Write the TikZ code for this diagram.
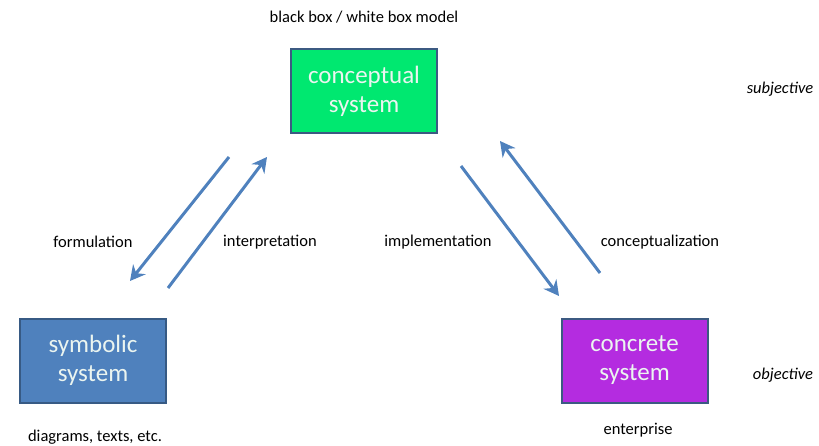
\documentclass[tikz,border=0pt]{standalone}
\usepackage{fontspec}
\setmainfont{Carlito}
\usetikzlibrary{arrows.meta}
\definecolor{cgreen}{RGB}{0,232,112}
\definecolor{cblue}{RGB}{79,129,189}
\definecolor{cpurple}{RGB}{180,44,224}
\definecolor{cedge}{RGB}{60,90,130}
\definecolor{arrowblue}{RGB}{79,129,189}
\definecolor{boxtext}{RGB}{235,245,240}
\begin{document}
\begin{tikzpicture}[x=1pt,y=-1pt,
  sysbox/.style={draw=cedge,line width=2pt,minimum width=146pt,minimum height=84pt,
    align=center,text=boxtext,font=\fontsize{25}{29}\selectfont,inner sep=0pt},
  lbl/.style={font=\fontsize{16.5}{19}\selectfont,text=black,inner sep=0pt},
  side/.style={font=\fontsize{16.5}{19}\selectfont\itshape,text=black,inner sep=0pt},
  flow/.style={draw=arrowblue,line width=3pt,
    -{Stealth[length=15pt,width=16pt,inset=5pt]}}]
\useasboundingbox (0,0) rectangle (819,446);

% the three systems
\node[sysbox,fill=cgreen] (concept) at (364,91) {conceptual\\system};
\node[sysbox,fill=cblue,draw=cblue!70!black] (symbolic) at (93,360.5) {symbolic\\system};
\node[sysbox,fill=cpurple] (concrete) at (634.5,360.5) {concrete\\system};

% captions
\node[lbl] (bbwb) at (364,17) {black box / white box model};
\node[lbl] (diag) at (95,437) {diagrams, texts, etc.};
\node[lbl] (ent) at (638,430) {enterprise};
\node[side] (subj) at (780,89) {subjective};
\node[side] (obj) at (783,375) {objective};

% arrow labels
\node[lbl] (formul) at (93,242) {formulation};
\node[lbl] (interp) at (270,242) {interpretation};
\node[lbl] (implem) at (438,242) {implementation};
\node[lbl] (concep) at (660,242) {conceptualization};

% arrow end points
\coordinate (f1) at (229,157);
\coordinate (f2) at (130,281);
\coordinate (i1) at (168,288);
\coordinate (i2) at (267,157);
\coordinate (m1) at (461,166);
\coordinate (m2) at (559,296);
\coordinate (c1) at (600,273);
\coordinate (c2) at (500,141);

\draw[flow] (f1) -- (f2);
\draw[flow] (i1) -- (i2);
\draw[flow] (m1) -- (m2);
\draw[flow] (c1) -- (c2);
\end{tikzpicture}
\end{document}
